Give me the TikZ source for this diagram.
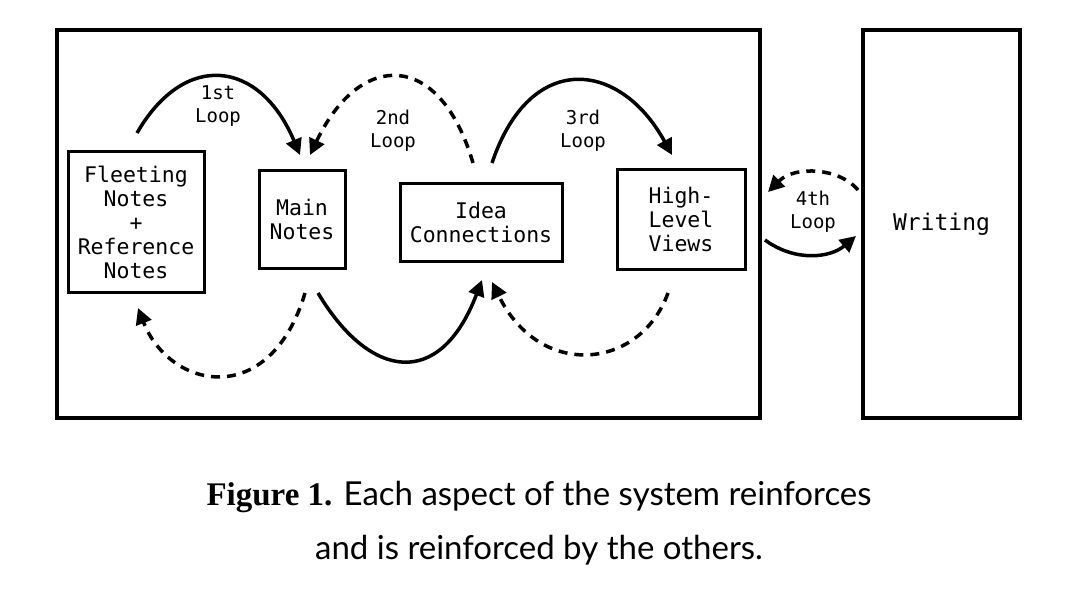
\documentclass[tikz,border=0pt]{standalone}
\usepackage{fontspec}
\setmonofont{DejaVu Sans Mono}
\setmainfont{Lato}
\newfontfamily\capserif{Liberation Serif}
\usetikzlibrary{arrows.meta}
\begin{document}
\begin{tikzpicture}[x=1pt,y=-1pt,
  box/.style={draw,line width=3pt,align=center,font=\ttfamily\fontsize{21.5}{24}\selectfont,inner sep=2pt},
  lbl/.style={align=center,font=\ttfamily\fontsize{19}{23}\selectfont},
  loop/.style={line width=3.5pt,-{Triangle[length=16pt,width=16pt]}},
  dsh/.style={loop,dash pattern=on 9pt off 7pt}]
\useasboundingbox (0,0) rectangle (1078,600);
\draw[line width=4pt] (57,30) rectangle (760,418);
\node[draw,line width=4pt,minimum width=157pt,minimum height=388pt,font=\ttfamily\fontsize{23}{26}\selectfont] (w) at (941.5,224) {Writing};
\node[box,minimum width=136pt,minimum height=141pt] (f) at (136,222) {Fleeting\\Notes\\+\\Reference\\Notes};
\node[box,minimum width=86pt,minimum height=98pt] (m) at (302,219) {Main\\Notes};
\node[box,minimum width=162pt,minimum height=78pt] (i) at (481,222) {Idea\\Connections};
\node[box,minimum width=128pt,minimum height=100pt] (h) at (681,219) {High-\\Level\\Views};
\node[lbl] (l1) at (218,106) {1st\\Loop};
\node[lbl] (l2) at (393,131) {2nd\\Loop};
\node[lbl] (l3) at (583,131) {3rd\\Loop};
\node[lbl] (l4) at (813,212) {4th\\Loop};
\coordinate (fa) at (137,133);
\coordinate (ia) at (473,163);
\coordinate (ib) at (492,163);
\draw[loop] (fa) .. controls (185,50) and (260,60) .. (300,155);
\draw[dsh] (ia) .. controls (440,50) and (360,50) .. (310,155);
\draw[loop] (ib) .. controls (530,50) and (620,60) .. (672,155);
\coordinate (w1) at (858,190);
\coordinate (w2) at (765,240);
\draw[dsh] (w1) .. controls (840,168) and (795,165) .. (768,192);
\draw[loop] (w2) .. controls (795,262) and (830,258) .. (856,236);
\coordinate (mb) at (305,293);
\coordinate (mc) at (318,293);
\coordinate (hb) at (668,293);
\draw[dsh] (mb) .. controls (270,410) and (170,390) .. (138,308);
\draw[loop] (mc) .. controls (370,380) and (440,390) .. (482,280);
\draw[dsh] (hb) .. controls (640,370) and (540,380) .. (492,282);
\node[font=\fontsize{33}{36}\selectfont] (c1) at (539,497) {{\capserif\bfseries Figure 1.} Each aspect of the system reinforces};
\node[font=\fontsize{33}{36}\selectfont] (c2) at (539,550) {and is reinforced by the others.};
\end{tikzpicture}
\end{document}
